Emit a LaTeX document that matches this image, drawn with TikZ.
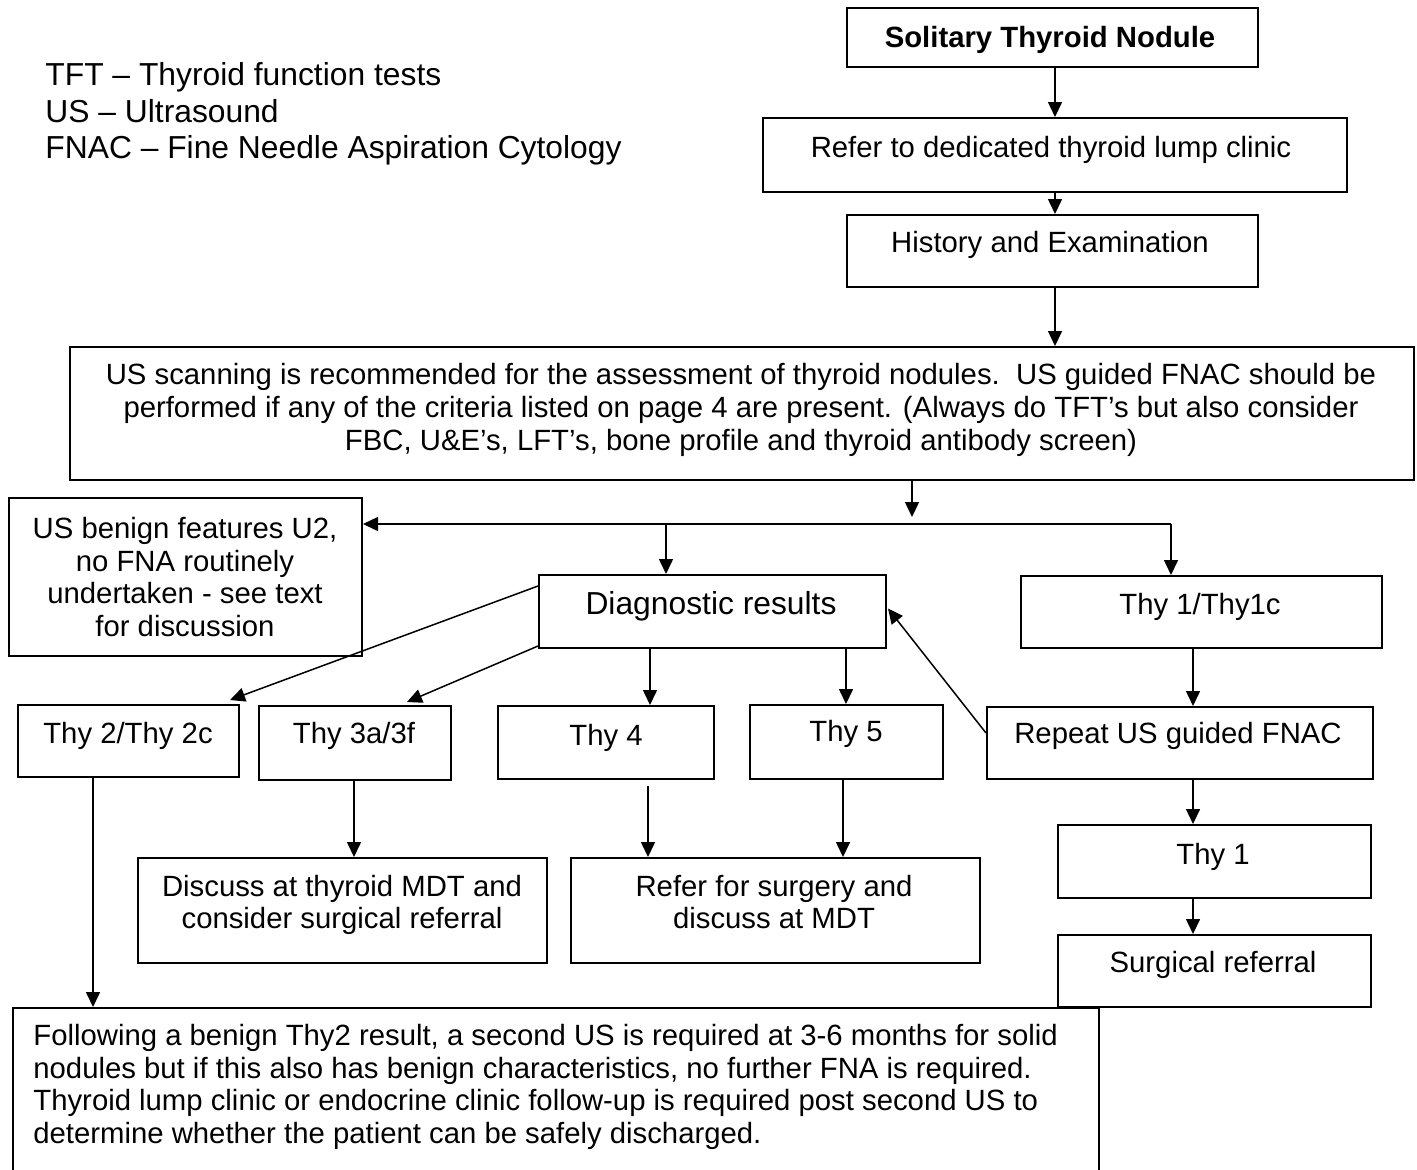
\documentclass[tikz,border=0pt]{standalone}
\usepackage{fontspec}
\setmainfont{Liberation Sans}
\usetikzlibrary{arrows.meta,calc}
\newcommand{\fmain}{\fontsize{14.65pt}{16.3pt}\selectfont}
\newcommand{\fbig}{\fontsize{15.9pt}{18.25pt}\selectfont}
\begin{document}
\begin{tikzpicture}[x=0.5pt,y=-0.5pt,
  box/.style n args={2}{draw,line width=1pt,inner sep=0pt,anchor=north west,minimum width=#1,minimum height=#2},
  txt/.style={inner sep=0pt,font=\fmain,anchor=base},
  mtxt/.style={inner sep=0pt,font=\fmain,align=center,anchor=center},
  arr/.style={line width=0.75pt,-{Triangle[length=7.5pt,width=7pt]}}]
\useasboundingbox (0,0) rectangle (1417,1169);
\fill[white] (0,0) rectangle (1417,1169);
\clip (0,0) rectangle (1417,1169);

% legend
\node[inner sep=0pt,font=\fbig,align=left,anchor=west] (legend) at (45,114)
  {TFT – Thyroid function tests\\US – Ultrasound\\FNAC – Fine Needle Aspiration Cytology};

% boxes
\node[box={205.5pt}{29.5pt}] (sol) at (846,7) {};
\node[box={292pt}{37pt}] (refer) at (762,117) {};
\node[box={205.5pt}{36pt}] (hist) at (846,214) {};
\node[box={672pt}{66.5pt}] (us) at (69,346) {};
\node[box={176.5pt}{79pt}] (benign) at (8,497) {};
\node[box={173.5pt}{36.5pt}] (diag) at (538,574) {};
\node[box={180.5pt}{36pt}] (thyc) at (1020,575) {};
\node[box={110.5pt}{36pt}] (thy2) at (17,704) {};
\node[box={96pt}{37pt}] (thy3) at (258,705) {};
\node[box={108pt}{36.5pt}] (thy4) at (497,705) {};
\node[box={96.5pt}{37pt}] (thy5) at (749,704) {};
\node[box={193pt}{36pt}] (rep) at (986,706) {};
\node[box={156.5pt}{36.5pt}] (thyone) at (1057,824) {};
\node[box={156.5pt}{36pt}] (surg) at (1057,934) {};
\node[box={204.5pt}{52.5pt}] (disc) at (137,857) {};
\node[box={204.5pt}{52.5pt}] (refs) at (570,857) {};
\node[box={543pt}{125pt}] (follow) at (12,1007) {};

% texts
\node[txt,font=\fmain\bfseries] (tsol) at (1050,47) {Solitary Thyroid Nodule};
\node[txt] (trefer) at (1051,157) {Refer to dedicated thyroid lump clinic};
\node[txt] (thist) at (1050,252) {History and Examination};
\node[mtxt] (tus) at (741,410) {US scanning is recommended for the assessment of thyroid nodules.\ \ US guided FNAC should be\\performed if any of the criteria listed on page 4 are present. (Always do TFT’s but also consider\\FBC, U\&E’s, LFT’s, bone profile and thyroid antibody screen)};
\node[mtxt] (tbenign) at (185,577) {US benign features U2,\\no FNA routinely\\undertaken - see text\\for discussion};
\node[txt,font=\fbig] (tdiag) at (711,614) {Diagnostic results};
\node[txt] (tthyc) at (1200,614) {Thy 1/Thy1c};
\node[txt] (tthy2) at (128,743) {Thy 2/Thy 2c};
\node[txt] (tthy3) at (354,743) {Thy 3a/3f};
\node[txt] (tthy4) at (606,745) {Thy 4};
\node[txt] (tthy5) at (846,741) {Thy 5};
\node[txt] (trep) at (1178,743) {Repeat US guided FNAC};
\node[txt] (tthyone) at (1213,864) {Thy 1};
\node[txt] (tsurg) at (1213,972) {Surgical referral};
\node[mtxt] (tdisc) at (342,905) {Discuss at thyroid MDT and\\consider surgical referral};
\node[mtxt] (trefs) at (774,902) {Refer for surgery and\\discuss at MDT};
\node[inner sep=0pt,font=\fmain,align=left,anchor=west] (tfollow) at (33,1087)
  {Following a benign Thy2 result, a second US is required at 3-6 months for solid\\nodules but if this also has benign characteristics, no further FNA is required.\\Thyroid lump clinic or endocrine clinic follow-up is required post second US to\\determine whether the patient can be safely discharged.};

% helper coordinates
\coordinate (xa) at (1055,0);
\coordinate (xj) at (912,0);
\coordinate (jend) at (912,517);
\coordinate (hl) at (1171,524);
\coordinate (hd) at (666,524);
\coordinate (x4) at (650,0);
\coordinate (x5) at (846,0);
\coordinate (xr) at (1193,0);
\coordinate (x3) at (354,0);
\coordinate (x4b) at (648,0);
\coordinate (x5b) at (843,0);
\coordinate (x2) at (93,0);

% connectors
\draw[arr] (sol.south -| xa) -- (refer.north -| xa);
\draw[arr] (refer.south -| xa) -- (hist.north -| xa);
\draw[arr] (hist.south -| xa) -- (us.north -| xa);
\draw[arr] (us.south -| xj) -- (jend);
\draw[arr] (hl) -- (hl -| benign.east);
\draw[arr] (hl) -- (hl |- thyc.north);
\draw[arr] (hd) -- (hd |- diag.north);
\draw[arr] ($(diag.north west)+(0,12)$) -- ($(thy2.north east)+(-10,-4)$);
\draw[arr] ($(diag.south west)+(0,-3)$) -- ($(thy3.north)+(52,-3)$);
\draw[arr] (diag.south -| x4) -- (thy4.north -| x4);
\draw[arr] (diag.south -| x5) -- (thy5.north -| x5);
\draw[arr] (thyc.south -| xr) -- (rep.north -| xr);
\draw[arr] ($(rep.north west)+(0,27)$) -- ($(diag.east)+(1,-3)$);
\draw[arr] (rep.south -| xr) -- (thyone.north -| xr);
\draw[arr] (thyone.south -| xr) -- (surg.north -| xr);
\draw[arr] (thy3.south -| x3) -- (disc.north -| x3);
\draw[arr] ($(thy4.south -| x4b)+(0,6)$) -- (refs.north -| x4b);
\draw[arr] (thy5.south -| x5b) -- (refs.north -| x5b);
\draw[arr] (thy2.south -| x2) -- (follow.north -| x2);
\end{tikzpicture}
\end{document}
